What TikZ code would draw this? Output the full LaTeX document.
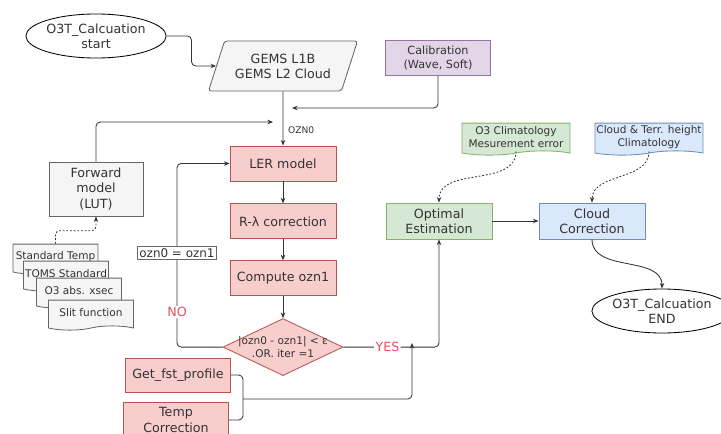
\documentclass[tikz,border=0pt]{standalone}
\usepackage{fontspec}
\setmainfont{DejaVu Sans}
\usetikzlibrary{positioning,arrows.meta,shapes.geometric,shapes.symbols}

\definecolor{redfill}{HTML}{F8CECC}
\definecolor{redline}{HTML}{B85450}
\definecolor{grayfill}{HTML}{F5F5F5}
\definecolor{grayline}{HTML}{666666}
\definecolor{purpfill}{HTML}{E1D5E7}
\definecolor{purpline}{HTML}{9673A6}
\definecolor{grnfill}{HTML}{D5E8D4}
\definecolor{grnline}{HTML}{82B366}
\definecolor{bluefill}{HTML}{DAE8FC}
\definecolor{blueline}{HTML}{6C8EBF}
\definecolor{txtgray}{HTML}{333333}
\definecolor{noyes}{HTML}{E0505F}

\begin{document}
\begin{tikzpicture}[
  x=0.025cm, y=-0.025cm,
  >={Stealth[length=4pt,width=3.2pt]},
  line width=0.6pt,
  every node/.style={text=txtgray},
  proc/.style={draw=redline, fill=redfill, minimum width=26.5mm, minimum height=8.75mm, align=center, inner sep=1pt, font=\fontsize{9}{10.8}\selectfont},
  gbox/.style={draw=grayline, fill=grayfill, minimum width=23.5mm, minimum height=13.5mm, align=center, font=\fontsize{9}{10.8}\selectfont},
  cbox/.style={draw, minimum width=26.5mm, minimum height=9mm, align=center, font=\fontsize{9}{10.8}\selectfont},
  doc/.style={tape, tape bend top=none, tape bend height=3pt, draw=grayline, fill=grayfill, minimum width=21.25mm, minimum height=7.5mm, inner sep=0pt, align=center, font=\fontsize{7.5}{9}\selectfont},
  term/.style={ellipse, draw=black, fill=white, minimum width=30.5mm, minimum height=11mm, inner sep=0pt, align=center, font=\fontsize{9}{10.8}\selectfont},
  link/.style={draw=txtgray, ->, rounded corners=3pt},
  dotlink/.style={draw=txtgray, ->, dash pattern=on 1.3pt off 1.3pt},
  answer/.style={fill=white, text=noyes, inner sep=1pt, font=\fontsize{9}{10.8}\selectfont}
]
\useasboundingbox (0,0) rectangle (721,433);

% input side
\node[term] (start) at (96,36) {O3T\_Calcuation\\start};
\node[trapezium, trapezium left angle=67, trapezium right angle=113, trapezium stretches=true,
  draw=grayline, fill=grayfill, rounded corners=2pt, minimum width=37.5mm, minimum height=12.5mm,
  align=center, font=\fontsize{9}{10.8}\selectfont] (gems) at (283,66) {GEMS L1B\\GEMS L2 Cloud};
\node[cbox, draw=purpline, fill=purpfill, minimum width=26.25mm, minimum height=8.75mm,
  font=\fontsize{8}{9.6}\selectfont] (cal) at (438,58) {Calibration\\(Wave, Soft)};
\node[gbox] (fwd) at (96,189) {Forward\\model\\(LUT)};

% main loop
\node[proc] (ler) at (283,163.5) {LER model};
\node[proc, below=5.5mm of ler] (rlam) {R-λ correction};
\node[proc, below=5.25mm of rlam] (comp) {Compute ozn1};
\node[diamond, aspect=2.1, draw=redline, fill=redfill, minimum width=30mm, minimum height=14.25mm, inner sep=0pt,
  below=5.5mm of comp,
  label={[align=center, text=txtgray, font=\fontsize{7.5}{9.5}\selectfont]center:{|ozn0 - ozn1| < ε\\.OR. iter =1}}] (dia) {};
\node[proc, minimum width=26.25mm, minimum height=8.5mm] (getfst) at (178,375) {Get\_fst\_profile};
\node[proc, minimum width=26.25mm] (temp) at (176,420) {Temp\\Correction};

% lookup tables
\node[doc] (stdtemp) at (55.5,257) {Standard Temp};
\node[doc] (toms) at (66,274) {TOMS Standard};
\node[doc] (xsec) at (79,291) {O3 abs. xsec};
\node[doc] (slit) at (91,313) {Slit function};

% retrieval
\node[cbox, draw=grnline, fill=grnfill] (opt) at (439,221) {Optimal\\Estimation};
\node[cbox, draw=blueline, fill=bluefill] (cloud) at (592,221) {Cloud\\Correction};
\node[doc, draw=grnline, fill=grnfill, minimum width=27mm, minimum height=8mm] (o3clim) at (516,137) {O3 Climatology\\Mesurement error};
\node[doc, draw=blueline, fill=bluefill, minimum width=27mm, minimum height=8mm] (cldclim) at (649,137) {Cloud \& Terr. height\\Climatology};
\node[term] (end) at (662,311) {O3T\_Calcuation\\END};

\coordinate (calin) at (292,108);
\coordinate (fwdin) at (273,122);
\coordinate (noturn) at (177,163.5);
\coordinate (brk) at (243,399);
\coordinate (yesin) at (412,343);

\draw[link] (start.east) -- ++(25,0) |- (gems.west);
\draw[link] (gems) -- (ler) node[right, pos=0.71, font=\fontsize{6.5}{8}\selectfont] {OZN0};
\draw[link] (cal.south) |- (calin);
\draw[link] (fwd.north) |- (fwdin);
\draw[dotlink, rounded corners=3pt] (stdtemp.north) -- ++(0,-13) -| (fwd.south);
\draw[link] (ler) -- (rlam);
\draw[link] (rlam) -- (comp);
\draw[link] (comp) -- (dia);
\draw[link] (dia.west) -| (noturn)
  node[answer, pos=0.595] {NO}
  node[pos=0.756, draw=grayline, fill=white, sharp corners, inner sep=1.5pt, font=\fontsize{8.5}{10}\selectfont] {ozn0 = ozn1}
  -- (ler.west);
\draw[link] (dia.east) -| (opt.south) node[answer, pos=0.23] {YES};
\draw[rounded corners=3pt, draw=txtgray] (getfst.east) -| (brk) |- (temp.east);
\draw[link] (brk) -| (yesin);
\draw[link] (opt) -- (cloud);
\draw[dotlink] (o3clim.south) to[out=-90, in=90] (opt.north);
\draw[dotlink] (cldclim.south) to[out=-90, in=90] (cloud.north);
\draw[link] (cloud.south) to[out=-90, in=90] (end.north);
\end{tikzpicture}
\end{document}
